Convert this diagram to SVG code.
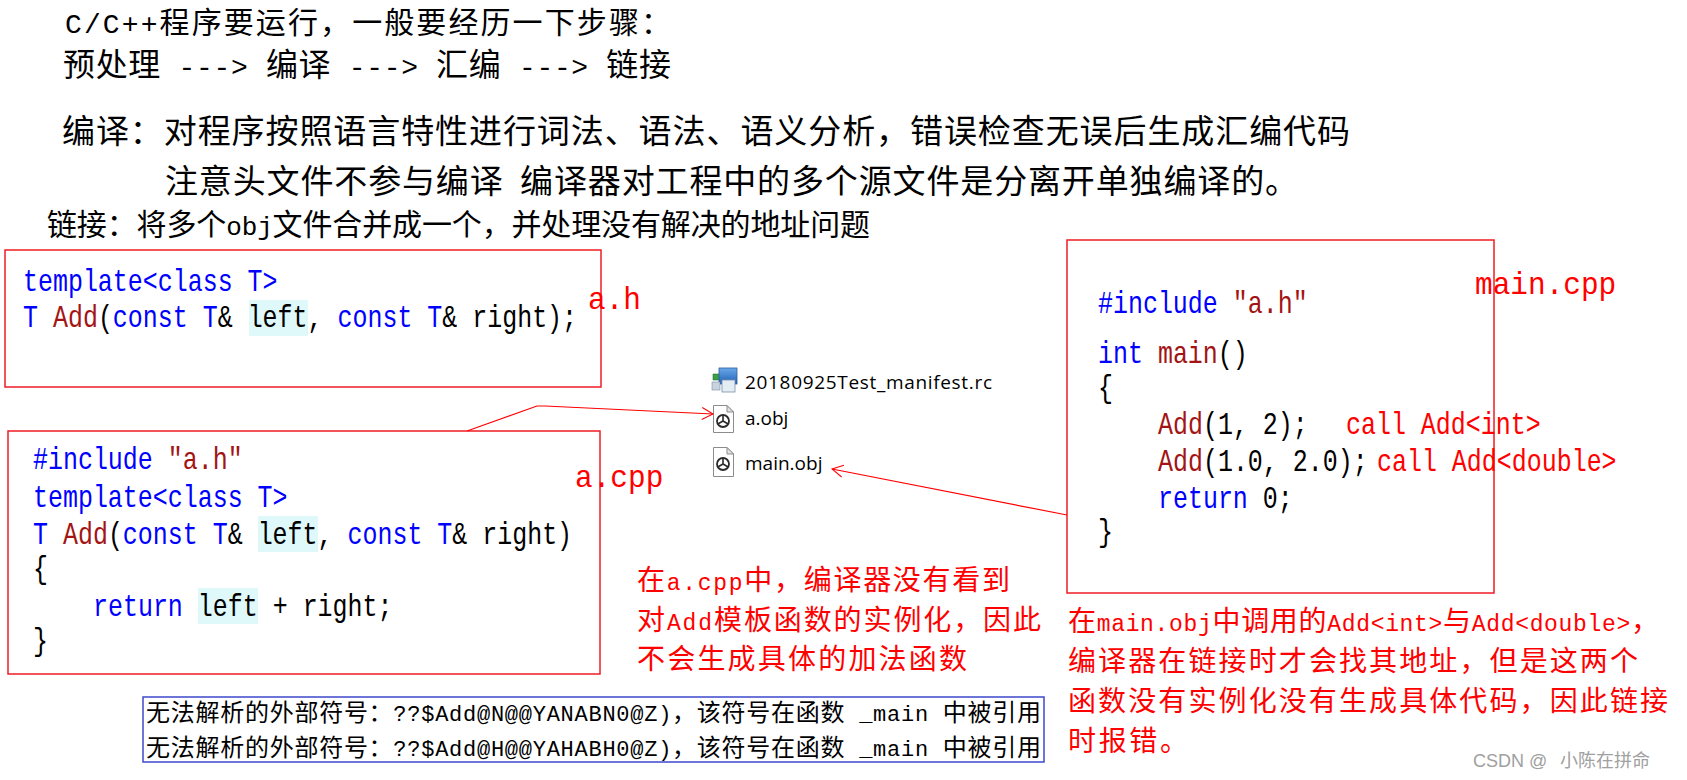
<svg xmlns="http://www.w3.org/2000/svg" width="1687" height="780" viewBox="0 0 1687 780">
<style>
.t { font-family: "Noto Sans CJK SC", sans-serif; fill: #000; }
.m { font-family: "Liberation Mono", "Noto Sans CJK SC", monospace; }
.code { font-family: "Liberation Mono", monospace; font-size: 32px; fill: #000; }
.kw { fill: #0000ff; }
.fn { fill: #a31515; }
.red { fill: #ff0000; }
.lbl { font-family: "Liberation Mono", monospace; font-size: 32px; fill: #ff0000; }
.box { fill: none; stroke: #ee1c25; stroke-width: 1.5; }
.hl { fill: #dff9fb; }
.file { font-family: "Open Sans", "Noto Sans", sans-serif; font-size: 19px; fill: #000; }
.conn { fill: none; stroke: #ff0000; stroke-width: 1.2; }
.doc { fill: #fff; stroke: #8c8c8c; stroke-width: 1; }
.fold { fill: #e2e2e2; stroke: #8c8c8c; stroke-width: 1; }
.gear { fill: none; stroke: #2a2a2a; stroke-width: 1.8; }
</style>
<defs>
<marker id="arr" markerUnits="userSpaceOnUse" markerWidth="14" markerHeight="14" refX="12" refY="7" orient="auto">
<path d="M1,1 L12,7 L1,13" fill="none" stroke="#ff0000" stroke-width="1"/>
</marker>
<linearGradient id="scr" x1="0" y1="0" x2="0" y2="1">
<stop offset="0" stop-color="#6aa8ea"/>
<stop offset="1" stop-color="#1f5fb5"/>
</linearGradient>
</defs>
<rect width="1687" height="780" fill="#fff"/>

<g id="intro">
<text class="t" x="65" y="33" font-size="30" textLength="606" lengthAdjust="spacing"><tspan class="m" font-size="28">C/C++</tspan>程序要运行，一般要经历一下步骤：</text>
<text class="t" x="63" y="76" font-size="32" textLength="608" lengthAdjust="spacing">预处理<tspan class="m" font-size="28"> ---&gt; </tspan>编译<tspan class="m" font-size="28"> ---&gt; </tspan>汇编<tspan class="m" font-size="28"> ---&gt; </tspan>链接</text>
<text class="t" x="62" y="143" font-size="33" textLength="1288" lengthAdjust="spacing">编译：对程序按照语言特性进行词法、语法、语义分析，错误检查无误后生成汇编代码</text>
<text class="t" x="165" y="193" font-size="33" textLength="1133" lengthAdjust="spacing" xml:space="preserve">注意头文件不参与编译  编译器对工程中的多个源文件是分离开单独编译的。</text>
<text class="t" x="47" y="235" font-size="30" textLength="823" lengthAdjust="spacing">链接：将多个<tspan class="m" font-size="26">obj</tspan>文件合并成一个，并处理没有解决的地址问题</text>
</g>

<g id="node-a-h">
<rect class="box" x="5" y="250" width="596" height="137"/>
<rect class="hl" x="249" y="300" width="59" height="36"/>
<text class="code kw" transform="matrix(0.78 0 0 1 23 291)">template&lt;class T&gt;</text>
<text class="code" transform="matrix(0.78 0 0 1 23 327)"><tspan class="kw">T</tspan> <tspan class="fn">Add</tspan>(<tspan class="kw">const T</tspan>&amp; left, <tspan class="kw">const T</tspan>&amp; right);</text>
<text class="lbl" transform="matrix(0.92 0 0 1 588 309)">a.h</text>
</g>

<g id="node-a-cpp">
<rect class="box" x="8" y="431" width="592" height="243"/>
<rect class="hl" x="258" y="516" width="60" height="36"/>
<rect class="hl" x="198" y="588" width="60" height="36"/>
<text class="code" transform="matrix(0.78 0 0 1 33 469)"><tspan class="kw">#include</tspan> <tspan class="fn">"a.h"</tspan></text>
<text class="code kw" transform="matrix(0.78 0 0 1 33 507)">template&lt;class T&gt;</text>
<text class="code" transform="matrix(0.78 0 0 1 33 544)"><tspan class="kw">T</tspan> <tspan class="fn">Add</tspan>(<tspan class="kw">const T</tspan>&amp; left, <tspan class="kw">const T</tspan>&amp; right)</text>
<text class="code" transform="matrix(0.78 0 0 1 33 578)">{</text>
<text class="code" transform="matrix(0.78 0 0 1 93 616)"><tspan class="kw">return</tspan> left + right;</text>
<text class="code" transform="matrix(0.78 0 0 1 33 650)">}</text>
<text class="lbl" transform="matrix(0.92 0 0 1 575 487)">a.cpp</text>
</g>

<g id="node-main-cpp">
<rect class="box" x="1067" y="240" width="427" height="353"/>
<text class="code" transform="matrix(0.78 0 0 1 1098 313)"><tspan class="kw">#include</tspan> <tspan class="fn">"a.h"</tspan></text>
<text class="code" transform="matrix(0.78 0 0 1 1098 363)"><tspan class="kw">int</tspan> <tspan class="fn">main</tspan>()</text>
<text class="code" transform="matrix(0.78 0 0 1 1098 397)">{</text>
<text class="code" transform="matrix(0.78 0 0 1 1158 434)"><tspan class="fn">Add</tspan>(1, 2);</text>
<text class="code red" transform="matrix(0.78 0 0 1 1346 434)">call Add&lt;int&gt;</text>
<text class="code" transform="matrix(0.78 0 0 1 1158 471)"><tspan class="fn">Add</tspan>(1.0, 2.0);</text>
<text class="code red" transform="matrix(0.78 0 0 1 1377 471)">call Add&lt;double&gt;</text>
<text class="code" transform="matrix(0.78 0 0 1 1158 508)"><tspan class="kw">return</tspan> 0;</text>
<text class="code" transform="matrix(0.78 0 0 1 1098 541)">}</text>
<text class="lbl" transform="matrix(0.92 0 0 1 1475 294)">main.cpp</text>
</g>

<g id="file-rc">
<path d="M713,374 h7 v-4 l7,7 l-7,7 v-4 h-7 z" fill="#3aa043" stroke="#2a7a30" stroke-width="0.6"/>
<rect x="719" y="368" width="18" height="16" fill="url(#scr)" stroke="#2d5d9a" stroke-width="0.8"/>
<rect x="722" y="380" width="13" height="12" fill="#e4ecf4" stroke="#7a8ea8" stroke-width="0.8"/>
<rect x="712" y="382" width="8" height="8" fill="#c9d3dd" stroke="#7a8ea8" stroke-width="0.6"/>
<text class="file" x="745" y="389" textLength="247" lengthAdjust="spacing">20180925Test_manifest.rc</text>
</g>

<g id="file-a-obj">
<path class="doc" d="M713.5,405.5 H727 L733.5,412 V432.5 H713.5 Z"/>
<path class="fold" d="M727,405.5 V412 H733.5 Z"/>
<circle class="gear" cx="723" cy="421" r="6"/>
<path d="M723,415 V421 M723,421 L717.8,424 M723,421 L728.2,424" stroke="#2a2a2a" stroke-width="1.6" fill="none"/>
<text class="file" x="745" y="425">a.obj</text>
</g>

<g id="file-main-obj">
<path class="doc" d="M713.5,447.5 H727 L733.5,454 V476.5 H713.5 Z"/>
<path class="fold" d="M727,447.5 V454 H733.5 Z"/>
<circle class="gear" cx="723" cy="464" r="6"/>
<path d="M723,458 V464 M723,464 L717.8,467 M723,464 L728.2,467" stroke="#2a2a2a" stroke-width="1.6" fill="none"/>
<text class="file" x="745" y="470">main.obj</text>
</g>

<g id="connectors">
<polyline class="conn" points="467,431 537,406 545,406 713,414" marker-end="url(#arr)"/>
<line class="conn" x1="1067" y1="515" x2="832" y2="469" marker-end="url(#arr)"/>
</g>

<g id="note-a-cpp">
<text class="t red" x="637" y="590" font-size="28" textLength="373" lengthAdjust="spacing">在<tspan class="m" font-size="23">a.cpp</tspan>中，编译器没有看到</text>
<text class="t red" x="637" y="630" font-size="28" textLength="404" lengthAdjust="spacing">对<tspan class="m" font-size="23">Add</tspan>模板函数的实例化，因此</text>
<text class="t red" x="637" y="669" font-size="28" textLength="330" lengthAdjust="spacing">不会生成具体的加法函数</text>
</g>

<g id="note-main-obj">
<text class="t red" x="1068" y="631" font-size="28" textLength="591" lengthAdjust="spacing">在<tspan class="m" font-size="23">main.obj</tspan>中调用的<tspan class="m" font-size="23">Add&lt;int&gt;</tspan>与<tspan class="m" font-size="23">Add&lt;double&gt;</tspan>，</text>
<text class="t red" x="1068" y="671" font-size="28" textLength="570" lengthAdjust="spacing">编译器在链接时才会找其地址，但是这两个</text>
<text class="t red" x="1068" y="711" font-size="28" textLength="600" lengthAdjust="spacing">函数没有实例化没有生成具体代码，因此链接</text>
<text class="t red" x="1068" y="751" font-size="28" textLength="120" lengthAdjust="spacing">时报错。</text>
</g>

<g id="error-box">
<rect x="143" y="697" width="901" height="65" fill="none" stroke="#3f48cc" stroke-width="1.5"/>
<text class="t" x="146" y="721" font-size="24" textLength="895" lengthAdjust="spacing">无法解析的外部符号：<tspan class="m" font-size="22">??$Add@N@@YANABN0@Z)</tspan>，该符号在函数<tspan class="m" font-size="22"> _main </tspan>中被引用</text>
<text class="t" x="146" y="756" font-size="24" textLength="895" lengthAdjust="spacing">无法解析的外部符号：<tspan class="m" font-size="22">??$Add@H@@YAHABH0@Z)</tspan>，该符号在函数<tspan class="m" font-size="22"> _main </tspan>中被引用</text>
</g>

<text x="1473" y="767" font-family="Liberation Sans, Noto Sans CJK SC, sans-serif" font-size="18" fill="#a0a0a0">CSDN @<tspan x="1560">小陈在拼命</tspan></text>
</svg>
